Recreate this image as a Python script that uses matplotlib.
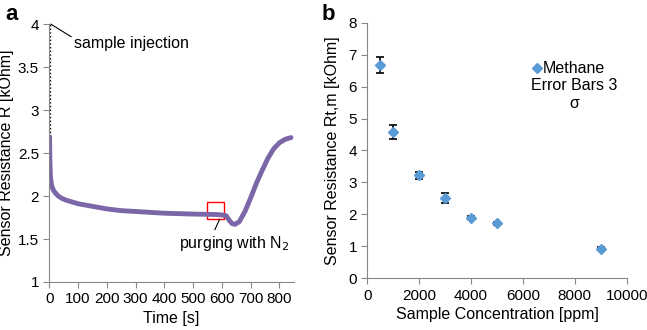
import matplotlib
matplotlib.use('Agg')
import matplotlib.pyplot as plt
from matplotlib.patches import Rectangle

plt.rcParams['font.family'] = ['Liberation Sans', 'DejaVu Sans']
plt.rcParams['font.size'] = 11.5

# panel a: sensor response over time
time_s = [1, 2, 4, 8, 14, 20, 31, 45, 60, 80, 100, 150, 200, 250, 300, 400, 500,
          580, 600, 615, 625, 635, 645, 660, 680, 700, 720, 740, 760, 780, 800, 820, 840]
resist = [2.69, 2.40, 2.22, 2.12, 2.07, 2.04, 2.00, 1.97, 1.95, 1.93, 1.91, 1.88, 1.85,
          1.83, 1.82, 1.80, 1.79, 1.785, 1.78, 1.77, 1.72, 1.68, 1.67, 1.70, 1.82, 1.98,
          2.15, 2.30, 2.44, 2.55, 2.62, 2.66, 2.68]

# panel b: calibration
conc = [500, 1000, 2000, 3000, 4000, 5000, 9000]
rtm = [6.68, 4.57, 3.22, 2.52, 1.90, 1.72, 0.93]
err = [0.25, 0.22, 0.10, 0.15, 0.05, 0.04, 0.05]

grey = '#888888'
purple = '#7B66A8'
blue = '#5B9BD5'
fs = 11.5

fig = plt.figure(figsize=(6.47, 3.3), dpi=100)

def style(ax):
    for s in ['top', 'right']:
        ax.spines[s].set_visible(False)
    for s in ['left', 'bottom']:
        ax.spines[s].set_color(grey)
    ax.tick_params(direction='out', length=4, color=grey, labelsize=11)

ax1 = fig.add_axes([0.0762, 0.1455, 0.378, 0.7815])
style(ax1)
ax1.plot([3, 3], [2.4, 4.0], color='black', linestyle=':', linewidth=1)
ax1.plot(time_s, resist, color=purple, linewidth=3.5, solid_capstyle='round')
ax1.add_patch(Rectangle((548, 1.73), 60, 0.2, fill=False, edgecolor='red', linewidth=1))
ax1.annotate('sample injection', xy=(5, 4.0), xytext=(86, 3.78),
             fontsize=fs, va='center',
             arrowprops=dict(arrowstyle='-', color='black', lw=0.8, shrinkA=0, shrinkB=0,
                             relpos=(0.0, 0.8)))
ax1.annotate('purging with N$_2$', xy=(592, 1.73), xytext=(450, 1.45),
             fontsize=fs, va='center',
             arrowprops=dict(arrowstyle='-', color='black', lw=0.8, shrinkA=1, shrinkB=0,
                             relpos=(0.31, 1.0)))
ax1.set_xlim(0, 850)
ax1.set_ylim(1, 4)
ax1.set_xticks(range(0, 801, 100))
ax1.set_yticks([1, 1.5, 2, 2.5, 3, 3.5, 4])
ax1.set_yticklabels(['1', '1.5', '2', '2.5', '3', '3.5', '4'])
ax1.set_xlabel('Time [s]', fontsize=fs, labelpad=3)
ax1.set_ylabel('Sensor Resistance R [kOhm]', fontsize=fs, labelpad=3)
fig.text(0.008, 0.955, 'a', fontsize=16, fontweight='bold', va='center')

ax2 = fig.add_axes([0.5677, 0.1567, 0.4009, 0.7745])
style(ax2)
ax2.errorbar(conc, rtm, yerr=err, fmt='D', color=blue, markersize=5.5,
             ecolor='black', elinewidth=1.2, capsize=3, capthick=1.2, zorder=3)
ax2.set_xlim(0, 10000)
ax2.set_ylim(0, 8)
ax2.set_xticks(range(0, 10001, 2000))
ax2.set_yticks(range(0, 9))
ax2.set_xlabel('Sample Concentration [ppm]', fontsize=fs, labelpad=3)
ax2.set_ylabel('Sensor Resistance Rt,m [kOhm]', fontsize=fs, labelpad=6)
ax2.plot([6550], [6.57], 'D', color=blue, markersize=5.5, clip_on=False)
ax2.text(6750, 6.57, 'Methane', fontsize=fs, va='center')
ax2.text(7960, 5.75, 'Error Bars 3\n\u03c3', fontsize=fs, va='center', ha='center',
         linespacing=1.3)
fig.text(0.497, 0.955, 'b', fontsize=16, fontweight='bold', va='center')

fig.savefig('out.png', dpi=100)
